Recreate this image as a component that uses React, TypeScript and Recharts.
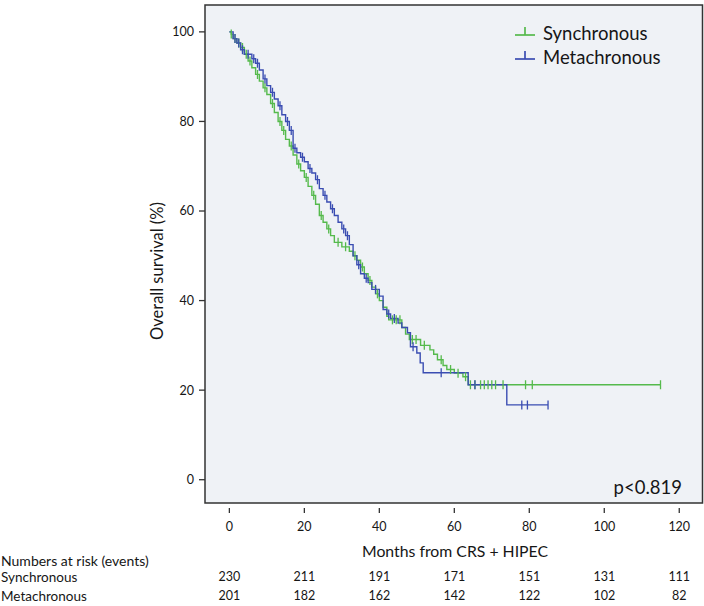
import { LineChart, Line, XAxis, YAxis, ReferenceArea, CartesianGrid, Customized } from "recharts";

const months = [0, 20, 40, 60, 80, 100, 120];
const survivalTicks = [0, 20, 40, 60, 80, 100];
const atRiskSync = [230, 211, 191, 171, 151, 131, 111];
const atRiskMeta = [201, 182, 162, 142, 122, 102, 82];

// [month, survival %, censored]
const synchronous = [
  [0, 100, 0], [0.5, 99.5, 1], [1, 98.5, 0], [1.5, 98.5, 1], [2, 97.5, 0], [2.5, 97.5, 1],
  [3, 96.5, 0], [3.5, 96.5, 1], [4, 95, 0], [4.5, 95, 1], [5, 93.5, 0], [5.5, 93.5, 1],
  [6, 92, 0], [7, 90.5, 0], [7.5, 90.5, 1], [8, 89, 0], [9, 87.5, 0], [9.5, 87.5, 1],
  [10, 86, 0], [11, 84, 0], [11.5, 84, 1], [12, 82, 0], [13, 80, 0], [13.5, 80, 1],
  [14, 78, 0], [14.5, 78, 1], [15, 76, 0], [16, 74.5, 0], [16.5, 74.5, 1], [17, 72.5, 0],
  [18, 70.5, 0], [18.5, 70.5, 1], [19, 69, 0], [20, 67.5, 0], [20.5, 67.5, 1], [21, 65.5, 0],
  [22, 63.5, 0], [22.5, 63.5, 1], [23, 61.5, 0], [24, 59, 0], [24.5, 59, 1], [25, 57.5, 0],
  [26, 56, 0], [26.5, 56, 1], [27, 54.5, 0], [28, 53, 0], [29, 53, 1], [30, 52, 0],
  [31, 52, 1], [32, 51, 0], [33, 50, 0], [33.5, 50, 1], [34, 49, 0], [35, 47.5, 0],
  [35.5, 47.5, 1], [36, 46, 0], [37, 44.5, 0], [37.5, 44.5, 1], [38, 43, 0], [39, 41.5, 0],
  [39.5, 41.5, 1], [40, 40, 0], [41, 38.5, 0], [42, 36.5, 0], [42.5, 35.7, 0], [43.5, 35.7, 1],
  [44.5, 35.7, 1], [45.5, 35.7, 1], [46, 34, 0], [47, 32.5, 0], [48, 31.3, 0], [48.8, 31.3, 1],
  [49.8, 31.3, 1], [51, 30, 0], [52, 30, 1], [53.5, 29, 0], [54.5, 28, 0], [55.5, 26.8, 0],
  [56.5, 26.8, 1], [57, 25.5, 0], [58, 24.6, 0], [59, 24.6, 1], [60, 23.8, 0], [61, 23.8, 1],
  [62.3, 23, 0], [63, 23, 1], [63.7, 21.2, 0], [64.3, 21.2, 1], [65.5, 21.2, 1], [67, 21.2, 1],
  [68, 21.2, 1], [69, 21.2, 1], [70, 21.2, 1], [71, 21.2, 1], [73, 21.2, 1], [79, 21.2, 1],
  [80.8, 21.2, 1], [115, 21.2, 1],
];

const metachronous = [
  [0, 100, 0], [1, 98.5, 0], [1.5, 98.5, 1], [2, 97.5, 0], [2.5, 97.5, 1], [3, 96, 0],
  [3.5, 96, 1], [4, 95, 0], [5, 95, 1], [6, 94, 0], [6.5, 94, 1], [7, 93, 0],
  [7.5, 93, 1], [8, 91.5, 0], [9, 89.5, 0], [9.5, 89.5, 1], [10, 88, 0], [11, 86.5, 0],
  [11.5, 86.5, 1], [12, 85, 0], [13, 83.5, 0], [13.5, 83.5, 1], [14, 81.5, 0], [15, 80, 0],
  [15.5, 80, 1], [16, 78, 0], [16.5, 78, 1], [17, 74, 0], [17.5, 74, 1], [18, 73, 0],
  [19, 72, 0], [19.5, 72, 1], [20, 71, 0], [21, 69.5, 0], [21.5, 69.5, 1], [22, 68.5, 0],
  [23, 67, 0], [23.5, 67, 1], [24, 65, 0], [25, 63.5, 0], [25.5, 63.5, 1], [26, 62, 0],
  [27, 60.5, 0], [27.5, 60.5, 1], [28, 59, 0], [29, 57.5, 0], [30, 56, 0], [30.5, 56, 1],
  [31, 54.5, 0], [31.5, 54.5, 1], [32, 52.5, 0], [33, 50, 0], [34, 48, 0], [34.5, 48, 1],
  [35, 46, 0], [36, 45, 0], [36.5, 45, 1], [37, 44, 0], [38, 42.5, 0], [39, 42.5, 1],
  [40, 41, 0], [41, 38, 0], [42, 37, 0], [42.5, 37, 1], [43, 36, 0], [44, 36, 1],
  [45, 35, 0], [46, 34, 0], [47.5, 32.8, 0], [48.3, 29.7, 0], [49, 29.7, 1], [50, 28.3, 0],
  [50.9, 26.1, 0], [51.7, 23.9, 0], [56.5, 23.9, 1], [63.7, 21.2, 0], [65.5, 21.2, 1], [74, 16.7, 0],
  [78, 16.7, 1], [79.5, 16.7, 1], [85, 16.7, 1],
];

const series = [
  { name: "Synchronous", color: "#55ba4c", points: synchronous },
  { name: "Metachronous", color: "#3a4db2", points: metachronous },
];

const font = "Lato, 'Open Sans', sans-serif";
const ink = "#161616";
const xDomain = [-6.5, 126.2];
const yDomain = [-5.2, 106];

// tick mark + month label, with the numbers at risk stacked under it
function MonthTick({ x, y, payload }: any) {
  const i = months.indexOf(payload.value);
  return (
    <g fontFamily={font} fill={ink} fontSize={12.5}>
      <line x1={x} x2={x} y1={y + 5} y2={y + 10} stroke="#333" strokeWidth={1.3} />
      <text x={x} y={y + 28} textAnchor="middle">{payload.value}</text>
      <text x={x} y={y + 78} textAnchor="middle">{atRiskSync[i]}</text>
      <text x={x} y={y + 97} textAnchor="middle">{atRiskMeta[i]}</text>
    </g>
  );
}

const censorDot = (color: string) => (props: any) => {
  const { cx, cy, payload, index } = props;
  if (!payload.c) return <g key={index} />;
  return <line key={index} x1={cx} x2={cx} y1={cy - 4.5} y2={cy + 4.5} stroke={color} strokeWidth={1.3} />;
};

function Overlay() {
  return (
    <g fontFamily={font} fill={ink}>
      <text transform="translate(163,271) rotate(-90)" textAnchor="middle" fontSize={16.5}>
        Overall survival (%)
      </text>
      <text x={455} y={557} textAnchor="middle" fontSize={15.8}>
        Months from CRS + HIPEC
      </text>
      <text x={1} y={566} fontSize={14}>Numbers at risk (events)</text>
      <text x={1} y={582} fontSize={13.5}>Synchronous</text>
      <text x={1} y={601} fontSize={13.5}>Metachronous</text>
      <text x={682} y={494} textAnchor="end" fontSize={18.5}>p&lt;0.819</text>
      {series.map((s, i) => {
        const ly = 35 + i * 24;
        return (
          <g key={s.name}>
            <line x1={515} x2={535} y1={ly} y2={ly} stroke={s.color} strokeWidth={1.7} />
            <line x1={525} x2={525} y1={ly - 8} y2={ly} stroke={s.color} strokeWidth={1.7} />
            <text x={543} y={ly + 5} fontSize={18.5}>{s.name}</text>
          </g>
        );
      })}
    </g>
  );
}

export default function App() {
  return (
    <div style={{ position: "absolute", left: 0, top: 0, background: "#fff" }}>
      <LineChart width={704} height={606} margin={{ top: 5, right: 1.5, bottom: 0, left: 0 }}>
        <CartesianGrid horizontal={false} vertical={false} fill="#eff2f6" />
        <XAxis
          type="number"
          dataKey="t"
          domain={xDomain}
          ticks={months}
          interval={0}
          allowDataOverflow
          axisLine={false}
          tickLine={false}
          tickSize={0}
          tickMargin={0}
          tick={<MonthTick />}
          height={103}
        />
        <YAxis
          type="number"
          domain={yDomain}
          ticks={survivalTicks}
          interval={0}
          allowDataOverflow
          width={205}
          axisLine={false}
          tickSize={6}
          tickMargin={5}
          tickLine={{ stroke: "#333", strokeWidth: 1.3 }}
          tick={{ fontSize: 12.5, fill: ink, fontFamily: font }}
        />
        <ReferenceArea
          x1={xDomain[0]}
          x2={xDomain[1]}
          y1={yDomain[0]}
          y2={yDomain[1]}
          fill="none"
          fillOpacity={0}
          stroke="#333"
          strokeWidth={1.5}
        />
        {series.map((s) => (
          <Line
            key={s.name}
            name={s.name}
            data={s.points.map(([t, v, c]) => ({ t, s: v, c }))}
            dataKey="s"
            type="stepAfter"
            stroke={s.color}
            strokeWidth={1.4}
            dot={censorDot(s.color)}
            activeDot={false}
            isAnimationActive={false}
          />
        ))}
        <Customized component={Overlay} />
      </LineChart>
    </div>
  );
}
